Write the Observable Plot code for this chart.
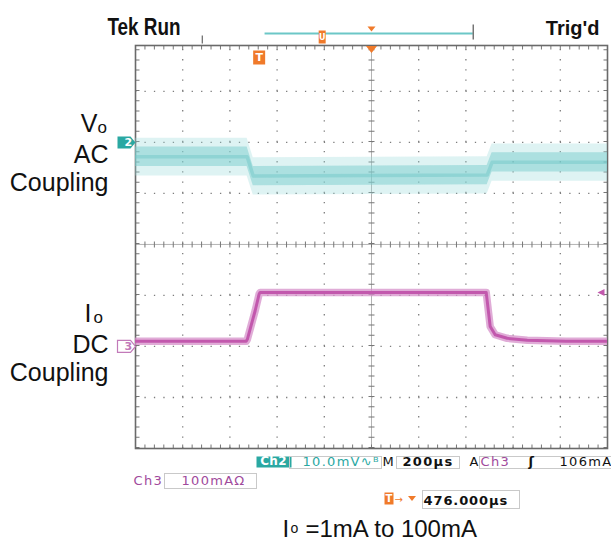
<!DOCTYPE html>
<html>
<head>
<meta charset="utf-8">
<script src="https://cdn.jsdelivr.net/npm/d3@7"></script>
<script src="https://cdn.jsdelivr.net/npm/@observablehq/plot@0.6"></script>
<style>
  html, body { margin: 0; padding: 0; background: #ffffff; }
  #chart { width: 611px; height: 544px; position: relative; }
  #chart g[aria-description^="ro-"] text { letter-spacing: 1.3px; }
  #chart g[aria-description="ro-ch2tag"] text { letter-spacing: 0.3px; }
  #chart g[aria-description="ro-delay"] text { letter-spacing: 0.9px; }
</style>
</head>
<body>
<div id="chart"></div>
<script>
// ---------------- Data ----------------
// Ch2 (Vo, AC coupled, 10 mV/div): persistence band, times in µs from trigger
const ch2Time   = [-524, -51, -25, 966, 987, 1476];
const ch2Mid    = [-2.8, -2.8, -6.6, -6.4, -3.9, -3.9];   // mV, densest part
const ch2CoreHi = [-0.9, -0.9, -4.7, -4.5, -2.0, -2.0];   // mV
const ch2CoreLo = [-4.7, -4.7, -8.5, -8.3, -5.8, -5.8];   // mV
const ch2PeakHi = [0.8, 0.8, -3.0, -2.8, -0.3, -0.3];     // mV
const ch2PeakLo = [-6.6, -6.6, -10.3, -10.1, -7.6, -7.6]; // mV

// Ch3 (Io, DC coupled, 100 mA/div)
const ch3Time    = [-524, -55, -50, -17, 0, 4, 962, 979, 1000, 1051, 1136, 1300, 1476];
const ch3Current = [10, 10, 14, 70, 103, 106, 106, 39, 23, 16, 12, 10, 10]; // mA

// Scope settings
const timePerDiv = 200;      // µs/div
const ch2PerDiv = 10;        // mV/div
const ch3PerDiv = 100;       // mA/div
const ch2Offset = 2;         // div (ground marker "2")
const ch3Offset = -2;        // div (ground marker "3")
const delayTime = 476;       // µs, screen centre relative to trigger
const triggerTime = 0;       // µs
const triggerLevel = 106;    // mA
const recordBar = [25, 907]; // record-view bar above the screen (screen µs)
const recordTrigMark = 267;
const recordTick = -241;

// Text
const ch2Label = ["V", "o", "AC", "Coupling"];
const ch3Label = ["I", "o", "DC", "Coupling"];
const statusLabels = ["Tek Run", "Trig'd"];
const readoutRow1 = ["Ch2", "10.0mV\u223F\u1D2E", "M", "200\u00B5s", "A", "Ch3", "\u0283", "106mA"];
const readoutRow2 = ["Ch3", "100mA\u03A9"];
const readoutRow3 = ["T", "\u2192", "476.000\u00B5s"];
const caption = ["I", "o", "=1mA to 100mA"];

// ---------------- Build ----------------
const teal = "#2aa8a2", magenta = "#a04a9c", trace3 = "#c258ad", orange = "#f07a2a";
const sans = "'Liberation Sans', Arial, Helvetica, sans-serif";
const roFont = "'DejaVu Sans', 'Liberation Sans', sans-serif";

const xDom = [delayTime - 5 * timePerDiv, delayTime + 5 * timePerDiv];
const yDom = [-4, 3.9];

const ch2Rows = ch2Time.map((t, i) => ({
  t,
  mid: ch2Offset + ch2Mid[i] / ch2PerDiv,
  coreHi: ch2Offset + ch2CoreHi[i] / ch2PerDiv,
  coreLo: ch2Offset + ch2CoreLo[i] / ch2PerDiv,
  peakHi: ch2Offset + ch2PeakHi[i] / ch2PerDiv,
  peakLo: ch2Offset + ch2PeakLo[i] / ch2PerDiv
}));
const ch3Rows = ch3Time.map((t, i) => ({t, v: ch3Offset + ch3Current[i] / ch3PerDiv}));

const gridX = d3.range(1, 10).map(k => xDom[0] + k * timePerDiv).filter(v => v !== delayTime);
const gridY = [-3, -2, -1, 1, 2, 3];

const poly = pts => ({draw(ctx) { ctx.moveTo(pts[0][0], pts[0][1]); for (const p of pts.slice(1)) ctx.lineTo(p[0], p[1]); ctx.closePath(); }});
const tagSymbol = poly([[-9, -6], [4, -6], [9, 0], [4, 6], [-9, 6]]);
const leftTri = poly([[-4, 0], [3, -3.5], [3, 3.5]]);
const downTri = poly([[-5.5, -3.5], [5.5, -3.5], [0, 3.5]]);
const smallDownTri = poly([[-4, -2.5], [4, -2.5], [0, 2.5]]);
const tBox = poly([[-6, -7], [6, -7], [6, 7], [-6, 7]]);
const smallTBox = poly([[-4.5, -6], [4.5, -6], [4.5, 6], [-4.5, 6]]);
const uBox = poly([[-3.5, -6.5], [3.5, -6.5], [3.5, 6.5], [-3.5, 6.5]]);
const vbar = {draw(ctx) { ctx.moveTo(0, -7.5); ctx.lineTo(0, 7.5); }};
const shortBar = {draw(ctx) { ctx.moveTo(0, -4); ctx.lineTo(0, 4); }};

const T = (text, o) => Plot.text([text], {
  text: d => d, frameAnchor: o.at, dx: o.dx, dy: o.dy,
  textAnchor: o.anchor ?? "start", lineAnchor: o.line ?? "bottom",
  fill: o.fill ?? "#111", fontSize: o.size ?? 13, fontFamily: o.font ?? roFont,
  fontWeight: o.weight ?? "normal", ariaDescription: o.id ?? "label"
});

const dotStep = 51.01 / 5, dotStepX = 47.2 / 5;

const plot = Plot.plot({
  width: 611, height: 544,
  marginLeft: 135, marginRight: 4, marginTop: 45, marginBottom: 96,
  x: {domain: xDom, axis: null},
  y: {domain: yDom, axis: null},
  style: {background: "#ffffff", overflow: "visible"},
  marks: [
    // graticule
    Plot.ruleX(gridX, {y1: yDom[0], y2: yDom[1], stroke: "#7d7d7d", strokeWidth: 1.3, strokeDasharray: `1.3,${(dotStep - 1.3).toFixed(2)}`}),
    Plot.ruleY(gridY, {x1: xDom[0], x2: xDom[1], stroke: "#7d7d7d", strokeWidth: 1.3, strokeDasharray: `1.3,${(dotStepX - 1.3).toFixed(2)}`}),
    Plot.ruleX([delayTime], {y1: yDom[0], y2: yDom[1], stroke: "#b4b4b4", strokeWidth: 1}),
    Plot.ruleY([0], {x1: xDom[0], x2: xDom[1], stroke: "#b4b4b4", strokeWidth: 1}),
    Plot.ruleX([delayTime], {y1: yDom[0], y2: yDom[1], stroke: "#777", strokeWidth: 6, strokeDasharray: `1,${(dotStep - 1).toFixed(2)}`}),
    Plot.ruleY([0], {x1: xDom[0], x2: xDom[1], stroke: "#777", strokeWidth: 6, strokeDasharray: `1,${(dotStepX - 1).toFixed(2)}`}),
    Plot.ruleY([yDom[1]], {x1: xDom[0], x2: xDom[1], dy: 2, stroke: "#777", strokeWidth: 4, strokeDasharray: `1,${(dotStepX - 1).toFixed(2)}`}),
    Plot.ruleY([yDom[0]], {x1: xDom[0], x2: xDom[1], dy: -2, stroke: "#777", strokeWidth: 4, strokeDasharray: `1,${(dotStepX - 1).toFixed(2)}`}),
    Plot.ruleX([xDom[0]], {y1: yDom[0], y2: yDom[1], dx: 2, stroke: "#777", strokeWidth: 4, strokeDasharray: `1,${(dotStep - 1).toFixed(2)}`}),
    Plot.ruleX([xDom[1]], {y1: yDom[0], y2: yDom[1], dx: -2, stroke: "#777", strokeWidth: 4, strokeDasharray: `1,${(dotStep - 1).toFixed(2)}`}),
    Plot.frame({stroke: "#6a6a6a", strokeWidth: 1.6}),

    // Ch2 persistence band
    Plot.areaY(ch2Rows, {x: "t", y1: "peakLo", y2: "peakHi", fill: "#98dada", fillOpacity: 0.32, clip: true}),
    Plot.areaY(ch2Rows, {x: "t", y1: "coreLo", y2: "coreHi", fill: "#79cdcd", fillOpacity: 0.5, clip: true}),
    Plot.line(ch2Rows, {x: "t", y: "mid", stroke: "#6cc6c6", strokeWidth: 3.5, strokeOpacity: 0.45, clip: true}),

    // Ch3 trace
    Plot.line(ch3Rows, {x: "t", y: "v", stroke: "#d690c9", strokeWidth: 7.5, strokeOpacity: 0.75, clip: true}),
    Plot.line(ch3Rows, {x: "t", y: "v", stroke: trace3, strokeWidth: 3, clip: true}),

    // channel ground markers
    Plot.dot([ch2Offset], {y: d => d, frameAnchor: "left", dx: -9, symbol: tagSymbol, fill: teal, stroke: "none"}),
    Plot.text([ch2Offset], {y: d => d, text: () => "2", frameAnchor: "left", dx: -11, fill: "#fff", fontWeight: "bold", fontSize: 11, fontFamily: roFont}),
    Plot.dot([ch3Offset], {y: d => d, frameAnchor: "left", dx: -9, symbol: tagSymbol, fill: "#fff", stroke: "#c27ab9", strokeWidth: 1.2}),
    Plot.text([ch3Offset], {y: d => d, text: () => "3", frameAnchor: "left", dx: -11, fill: "#c27ab9", fontWeight: "bold", fontSize: 11, fontFamily: roFont}),
    // trigger level
    Plot.dot([ch3Offset + triggerLevel / ch3PerDiv], {y: d => d, frameAnchor: "right", dx: -6, symbol: leftTri, fill: trace3, stroke: "none"}),
    // trigger position & delay markers
    Plot.dot([triggerTime], {x: d => d, frameAnchor: "top", dy: 12, symbol: tBox, fill: orange, stroke: "none"}),
    Plot.text([triggerTime], {x: d => d, text: () => "T", frameAnchor: "top", dy: 12, lineAnchor: "middle", fill: "#fff", fontWeight: "bold", fontSize: 11, fontFamily: roFont}),
    Plot.dot([delayTime], {x: d => d, frameAnchor: "top", dy: 4, symbol: downTri, fill: orange, stroke: "none"}),

    // record view bar above the screen
    Plot.ruleY([yDom[1]], {x1: recordBar[0], x2: recordBar[1], dy: -12, stroke: "#6cc7c7", strokeWidth: 2}),
    Plot.dot([recordBar[1]], {x: d => d, frameAnchor: "top", dy: -13.5, symbol: vbar, stroke: "#555", strokeWidth: 1.2, fill: "none"}),
    Plot.dot([recordTick], {x: d => d, frameAnchor: "top", dy: -6, symbol: shortBar, stroke: "#666", strokeWidth: 1.2, fill: "none"}),
    Plot.dot([recordTrigMark], {x: d => d, frameAnchor: "top", dy: -8.5, symbol: uBox, fill: orange, stroke: "none"}),
    Plot.text([recordTrigMark], {x: d => d, text: () => "U", frameAnchor: "top", dy: -8, lineAnchor: "middle", fill: "#fff", fontWeight: "bold", fontSize: 8, fontFamily: roFont}),
    Plot.dot([delayTime], {x: d => d, frameAnchor: "top", dy: -16.5, symbol: smallDownTri, fill: orange, stroke: "none"}),

    // status line
    T(statusLabels[0], {at: "top-left", dx: -28, dy: -11, font: sans, weight: "bold", size: 24, id: "status"}),
    T(statusLabels[1], {at: "top-right", dx: -8, dy: -11, anchor: "end", font: sans, weight: "bold", size: 20, id: "status2"}),

    // channel labels
    T(ch2Label[0], {at: "top-left", dx: -38, dy: 86, anchor: "end", font: sans, size: 25}),
    T(ch2Label[1], {at: "top-left", dx: -38, dy: 87, font: sans, size: 17}),
    T(ch2Label[2], {at: "top-left", dx: -27, dy: 117, anchor: "end", font: sans, size: 25}),
    T(ch2Label[3], {at: "top-left", dx: -27, dy: 145, anchor: "end", font: sans, size: 25}),
    T(ch3Label[0], {at: "top-left", dx: -44, dy: 276, anchor: "end", font: sans, size: 25}),
    T(ch3Label[1], {at: "top-left", dx: -42, dy: 277, font: sans, size: 17}),
    T(ch3Label[2], {at: "top-left", dx: -27, dy: 307, anchor: "end", font: sans, size: 25}),
    T(ch3Label[3], {at: "top-left", dx: -27, dy: 335, anchor: "end", font: sans, size: 25}),

    // readouts row 1
    T(readoutRow1[0], {at: "bottom-left", dx: 138, dy: 16.5, anchor: "middle", fill: "#fff", weight: "bold", size: 12, id: "ro-ch2tag"}),
    T(readoutRow1[1], {at: "bottom-left", dx: 167, dy: 17, fill: teal, id: "ro-ch2scale"}),
    T(readoutRow1[2], {at: "bottom-left", dx: 247, dy: 17, id: "ro-m"}),
    T(readoutRow1[3], {at: "bottom-left", dx: 267, dy: 17, weight: 600, id: "ro-time"}),
    T(readoutRow1[4], {at: "bottom-left", dx: 334, dy: 17, id: "ro-a"}),
    T(readoutRow1[5], {at: "bottom-left", dx: 345, dy: 17, fill: magenta, id: "ro-trig"}),
    T(readoutRow1[6], {at: "bottom-left", dx: 393, dy: 17, weight: "bold", id: "ro-trig"}),
    T(readoutRow1[7], {at: "bottom-left", dx: 424, dy: 17, id: "ro-trig"}),
    // row 2
    T(readoutRow2[0], {at: "bottom-left", dx: -2, dy: 36, fill: magenta, id: "ro-ch3lab"}),
    T(readoutRow2[1], {at: "bottom-left", dx: 46, dy: 36, fill: magenta, id: "ro-ch3scale"}),
    // row 3
    Plot.dot([readoutRow3[0]], {frameAnchor: "bottom-left", dx: 253.5, dy: 50, symbol: smallTBox, fill: orange, stroke: "none"}),
    T(readoutRow3[0], {at: "bottom-left", dx: 253.5, dy: 50, anchor: "middle", line: "middle", fill: "#fff", weight: "bold", size: 10, id: "tmark"}),
    T(readoutRow3[1], {at: "bottom-left", dx: 259, dy: 54, fill: orange, size: 10, id: "tmark"}),
    Plot.dot([readoutRow3[1]], {frameAnchor: "bottom-left", dx: 276.5, dy: 50, symbol: smallDownTri, fill: orange, stroke: "none"}),
    T(readoutRow3[2], {at: "bottom-left", dx: 288, dy: 56, weight: 600, id: "ro-delay"}),

    // caption
    T(caption[0], {at: "bottom-left", dx: 147, dy: 88, font: sans, size: 24}),
    T(caption[1], {at: "bottom-left", dx: 155, dy: 84, font: sans, size: 14}),
    T(caption[2], {at: "bottom-left", dx: 170, dy: 88, font: sans, size: 24})
  ]
});

document.getElementById("chart").append(plot);

// condensed status font
plot.querySelectorAll('g[aria-description="status"] text').forEach(n => {
  n.setAttribute("textLength", 73);
  n.setAttribute("lengthAdjust", "spacingAndGlyphs");
});

// readout boxes, sized from the rendered text
const svgBox = plot.getBoundingClientRect();
function addBox(id, {padL = 2, padR = 2, padT = 0, padB = 0, fill = "none", stroke = "#c9c9c9"} = {}) {
  let x0 = Infinity, y0 = Infinity, x1 = -Infinity, y1 = -Infinity;
  plot.querySelectorAll(`g[aria-description="${id}"] text`).forEach(n => {
    const r = n.getBoundingClientRect();
    x0 = Math.min(x0, r.left); x1 = Math.max(x1, r.right);
    y0 = Math.min(y0, r.top); y1 = Math.max(y1, r.bottom);
  });
  if (!isFinite(x0)) return;
  const first = plot.querySelector(":scope > g");
  const rect = document.createElementNS("http://www.w3.org/2000/svg", "rect");
  rect.setAttribute("x", Math.round(x0 - svgBox.left - padL) + 0.5);
  rect.setAttribute("y", Math.round(y0 - svgBox.top - padT) + 0.5);
  rect.setAttribute("width", Math.round(x1 - x0 + padL + padR));
  rect.setAttribute("height", Math.round(y1 - y0 + padT + padB));
  rect.setAttribute("fill", fill);
  rect.setAttribute("stroke", stroke);
  plot.insertBefore(rect, first);
}
addBox("ro-ch2tag", {padL: 4, padR: 4, padT: -2, padB: -1, fill: teal, stroke: "none"});
addBox("ro-ch2scale", {padL: 14, padR: 1, padT: -2, padB: -1});
addBox("ro-time", {padL: 7, padR: 5, padT: -2, padB: -1});
addBox("ro-trig", {padL: 2, padR: 10, padT: -2, padB: -1});
addBox("ro-ch3scale", {padL: 18, padR: 10, padT: 0, padB: 0});
addBox("ro-delay", {padL: 2, padR: 10, padT: 3, padB: 0});
</script>
</body>
</html>
